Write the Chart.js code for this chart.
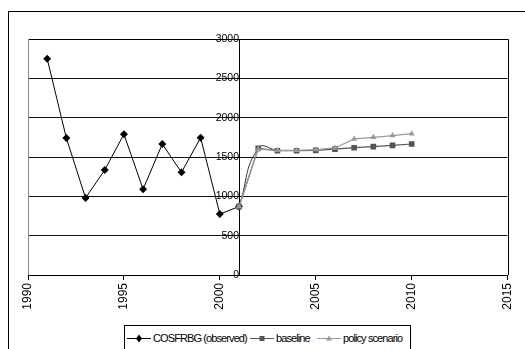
<!DOCTYPE html>
<html>
<head>
<meta charset="utf-8">
<script src="https://cdn.jsdelivr.net/npm/chart.js@4/dist/chart.umd.min.js"></script>
<style>
  html, body { margin: 0; padding: 0; background: #fff; overflow: hidden; width: 525px; height: 349px; }
  #wrap { position: relative; width: 525px; height: 349px; overflow: hidden; }
  #frame { position: absolute; left: 8px; top: 11px; width: 517px; height: 338px; border: 1px solid #000; border-right: none; border-bottom: none; box-sizing: border-box; }
  #c { position: absolute; left: 0; top: 0; }
  #legend { position: absolute; left: 124px; top: 325px; width: 287px; height: 24px; border: 1px solid #000; border-bottom: none; box-sizing: border-box; background: #fff;
            font-family: "Liberation Sans", Arial, sans-serif; font-size: 11px; letter-spacing: -0.9px; color: #000; overflow: hidden; }
  .item { position: absolute; top: 4px; height: 16px; display: flex; align-items: center; white-space: nowrap; }
  .item svg { margin-right: 2px; display: block; }
</style>
</head>
<body>
<div id="wrap">
  <div id="frame"></div>
  <canvas id="c" width="525" height="349"></canvas>
  <div id="legend"></div>
</div>
<script>
// Series values
const observedYears = [1991, 1992, 1993, 1994, 1995, 1996, 1997, 1998, 1999, 2000, 2001];
const observedValues = [2750, 1740, 980, 1335, 1790, 1090, 1665, 1305, 1745, 775, 870];

const scenarioYears = [2001, 2002, 2003, 2004, 2005, 2006, 2007, 2008, 2009, 2010];
const baselineValues = [870, 1610, 1580, 1580, 1585, 1600, 1618, 1632, 1648, 1665];
const policyValues = [870, 1600, 1585, 1585, 1595, 1615, 1730, 1750, 1772, 1797];

// smoothed link between the observed and projected periods
const bridgeYears = [2001, 2002, 2003];
const bridgeValues = [870, 1610, 1585];

const xTicks = [1990, 1995, 2000, 2005, 2010, 2015];
const yTicks = [0, 500, 1000, 1500, 2000, 2500, 3000];

const seriesNames = ['COSFRBG (observed)', 'baseline', 'policy scenario'];

const pts = (xs, ys) => xs.map((x, i) => ({ x: x, y: ys[i] }));

// top and right edges black, left edge grey
const frame = {
  id: 'plotFrame',
  afterDatasetsDraw(chart) {
    const a = chart.chartArea, ctx = chart.ctx;
    ctx.save();
    ctx.lineWidth = 1;
    ctx.strokeStyle = '#000';
    ctx.beginPath();
    ctx.moveTo(a.left, a.top + 0.5);
    ctx.lineTo(Math.round(a.right) + 0.5, a.top + 0.5);
    ctx.lineTo(Math.round(a.right) + 0.5, a.bottom);
    ctx.stroke();
    ctx.strokeStyle = '#888';
    ctx.beginPath();
    ctx.moveTo(a.left + 0.5, a.top);
    ctx.lineTo(a.left + 0.5, a.bottom);
    ctx.stroke();
    ctx.restore();
  }
};

const font = 'Liberation Sans, Arial, sans-serif';

const chart = new Chart(document.getElementById('c'), {
  type: 'line',
  data: {
    datasets: [
      { label: 'bridge', data: pts(bridgeYears, bridgeValues), borderColor: '#333', borderWidth: 1,
        pointRadius: 0, tension: 0.5, order: 4 },
      { label: seriesNames[0], data: pts(observedYears, observedValues), borderColor: '#000', backgroundColor: '#000',
        borderWidth: 1, pointStyle: 'rectRot', pointRadius: 4, pointBorderWidth: 0, tension: 0, order: 3 },
      { label: seriesNames[1], data: pts(scenarioYears, baselineValues), borderColor: '#555', backgroundColor: '#555',
        borderWidth: 1.2, pointStyle: 'rect', pointRadius: 4, pointBorderWidth: 0, tension: 0, order: 2 },
      { label: seriesNames[2], data: pts(scenarioYears, policyValues), borderColor: '#999', backgroundColor: '#999',
        borderWidth: 1.2, pointStyle: 'triangle', pointRadius: 3.5, pointBorderWidth: 0, tension: 0, order: 1 }
    ]
  },
  options: {
    responsive: false,
    animation: false,
    layout: { padding: { left: 28, top: 39, right: 17, bottom: 0 } },
    plugins: { legend: { display: false }, tooltip: { enabled: false } },
    scales: {
      x: {
        type: 'linear', min: xTicks[0], max: xTicks[xTicks.length - 1],
        afterBuildTicks(s) { s.ticks = xTicks.map(v => ({ value: v })); },
        afterFit(s) { s.height = 74; },
        grid: { drawOnChartArea: false, drawTicks: true, tickLength: 5, color: '#000' },
        border: { color: '#000', width: 1 },
        ticks: { minRotation: 90, maxRotation: 90, padding: 3, color: '#000',
                 callback: v => String(v), font: { family: font, size: 12 } }
      },
      y: {
        type: 'linear', min: yTicks[0], max: yTicks[yTicks.length - 1],
        position: { x: 2001 },
        afterBuildTicks(s) { s.ticks = yTicks.map(v => ({ value: v })); },
        grid: { color: '#111', lineWidth: 1, drawTicks: true, tickLength: 4 },
        border: { color: '#000', width: 1 },
        ticks: { padding: 0, color: '#000', callback: v => String(v), font: { family: font, size: 10.5 } }
      }
    }
  },
  plugins: [frame]
});

// legend: line segment with marker, then series name
const SVG = 'http://www.w3.org/2000/svg';
const markerShapes = {
  rectRot: (c) => ['polygon', { points: '12,3.5 15,7.5 12,11.5 9,7.5', fill: c }],
  rect: (c) => ['rect', { x: 9.5, y: 5, width: 5, height: 5, fill: c }],
  triangle: (c) => ['polygon', { points: '12,4.5 15,9.5 9,9.5', fill: c }]
};
const legendEl = document.getElementById('legend');
const legendItems = [
  { left: 2, ds: 1 },
  { left: 125, ds: 2 },
  { left: 192, ds: 3 }
];
legendItems.forEach(it => {
  const ds = chart.data.datasets[it.ds];
  const div = document.createElement('div');
  div.className = 'item';
  div.style.left = it.left + 'px';
  const svg = document.createElementNS(SVG, 'svg');
  svg.setAttribute('width', '24'); svg.setAttribute('height', '14');
  const line = document.createElementNS(SVG, 'line');
  [['x1', 0], ['y1', 7.5], ['x2', 24], ['y2', 7.5], ['stroke', ds.borderColor], ['stroke-width', 1]]
    .forEach(([k, v]) => line.setAttribute(k, v));
  svg.appendChild(line);
  const [tag, attrs] = markerShapes[ds.pointStyle](ds.backgroundColor);
  const m = document.createElementNS(SVG, tag);
  Object.keys(attrs).forEach(k => m.setAttribute(k, attrs[k]));
  svg.appendChild(m);
  const sp = document.createElement('span');
  sp.textContent = ds.label;
  div.appendChild(svg); div.appendChild(sp);
  legendEl.appendChild(div);
});
</script>
</body>
</html>
